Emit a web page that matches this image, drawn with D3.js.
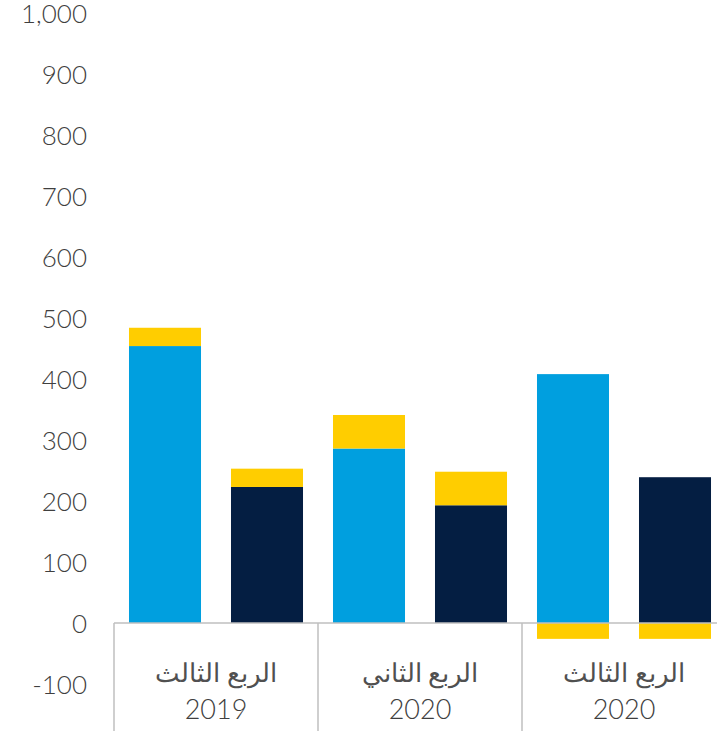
<!DOCTYPE html>
<html>
<head>
<meta charset="utf-8">
<script src="https://cdn.jsdelivr.net/npm/d3@7"></script>
<style>
  body { margin: 0; background: #fff; }
  text { font-family: Lato, "Noto Sans", "DejaVu Sans", sans-serif; font-weight: 300; fill: #3f3f3f; }
  .ar { font-family: "Noto Sans", sans-serif; font-weight: 400; fill: #505050; }
</style>
</head>
<body>
<div id="chart"></div>
<script>
const quarters = ['الربع الثالث|2019', 'الربع الثاني|2020', 'الربع الثالث|2020']
const blueVals = [454, 286, 408]
const navyVals = [223, 193, 239]
const yellowOnBlue = [30, 55, -26]
const yellowOnNavy = [30, 55, -26]
const yTicks = [-100, 0, 100, 200, 300, 400, 500, 600, 700, 800, 900, 1000]

const W = 717, H = 731
const m = {left: 114, top: 13}

const svg = d3.select('#chart')
              .append('svg')
              .attr('width', W)
              .attr('height', H)

// rows for stacking
const rows = []
quarters.forEach((q, i) => {
    rows.push({q, kind: 'blue', main: blueVals[i], extra: yellowOnBlue[i]})
    rows.push({q, kind: 'navy', main: navyVals[i], extra: yellowOnNavy[i]})
})

const stack = d3.stack()
                .keys(['main', 'extra'])
                .offset(d3.stackOffsetDiverging)
const series = stack(rows)

// Scales
const x0 = d3.scaleBand()
             .domain(quarters)
             .range([m.left, m.left + 3 * 204])

const x1 = d3.scaleBand()
             .domain(['blue', 'navy'])
             .range([0, x0.bandwidth()])
             .paddingInner(0.294)
             .paddingOuter(0.147)

const y = d3.scaleLinear()
            .domain([-100, 1000])
            .range([684, m.top])

const color = {blue: '#009fdf', navy: '#041e42'}
const yellow = '#ffcd00'

// Y axis labels
const yAxis = d3.axisLeft(y)
                .tickValues(yTicks)
                .tickSize(0)
                .tickPadding(27)
                .tickFormat(d => d3.format(',')(d).replace('−', '-'))

svg.append('g')
    .attr('transform', `translate(${m.left}, 0)`)
    .call(yAxis)
    .call(g => g.select('.domain').remove())
    .selectAll('text')
        .style('font-size', '26px')
        .attr('fill', '#3f3f3f')
        .attr('dy', '0.36em')

// Bars
series.forEach(s => {
    svg.append('g')
        .selectAll('rect')
        .data(s).enter()
        .append('rect')
            .attr('x', d => x0(d.data.q) + x1(d.data.kind))
            .attr('y', d => y(Math.max(d[0], d[1])))
            .attr('width', x1.bandwidth())
            .attr('height', d => Math.abs(y(d[0]) - y(d[1])))
            .attr('fill', d => s.key === 'main' ? color[d.data.kind] : yellow)
})

// baseline and category separators
svg.append('line')
    .attr('x1', m.left).attr('x2', W)
    .attr('y1', y(0)).attr('y2', y(0))
    .attr('stroke', '#bfbfbf')
    .attr('stroke-width', 1.5)

svg.append('g')
    .selectAll('line')
    .data(quarters).enter()
    .append('line')
        .attr('x1', d => x0(d)).attr('x2', d => x0(d))
        .attr('y1', y(0)).attr('y2', H)
        .attr('stroke', '#bfbfbf')
        .attr('stroke-width', 1.5)

// category labels
const lab = svg.append('g')
               .selectAll('text')
               .data(quarters).enter()
               .append('text')
                   .attr('text-anchor', 'middle')
                   .style('font-size', '26px')

lab.append('tspan')
    .attr('class', 'ar')
    .attr('x', d => x0(d) + x0.bandwidth() / 2)
    .attr('y', 682)
    .attr('direction', 'rtl')
    .attr('unicode-bidi', 'embed')
    .text(d => d.split('|')[0])

lab.append('tspan')
    .attr('x', d => x0(d) + x0.bandwidth() / 2)
    .attr('y', 719)
    .style('font-size', '27px')
    .text(d => d.split('|')[1])
</script>
</body>
</html>
